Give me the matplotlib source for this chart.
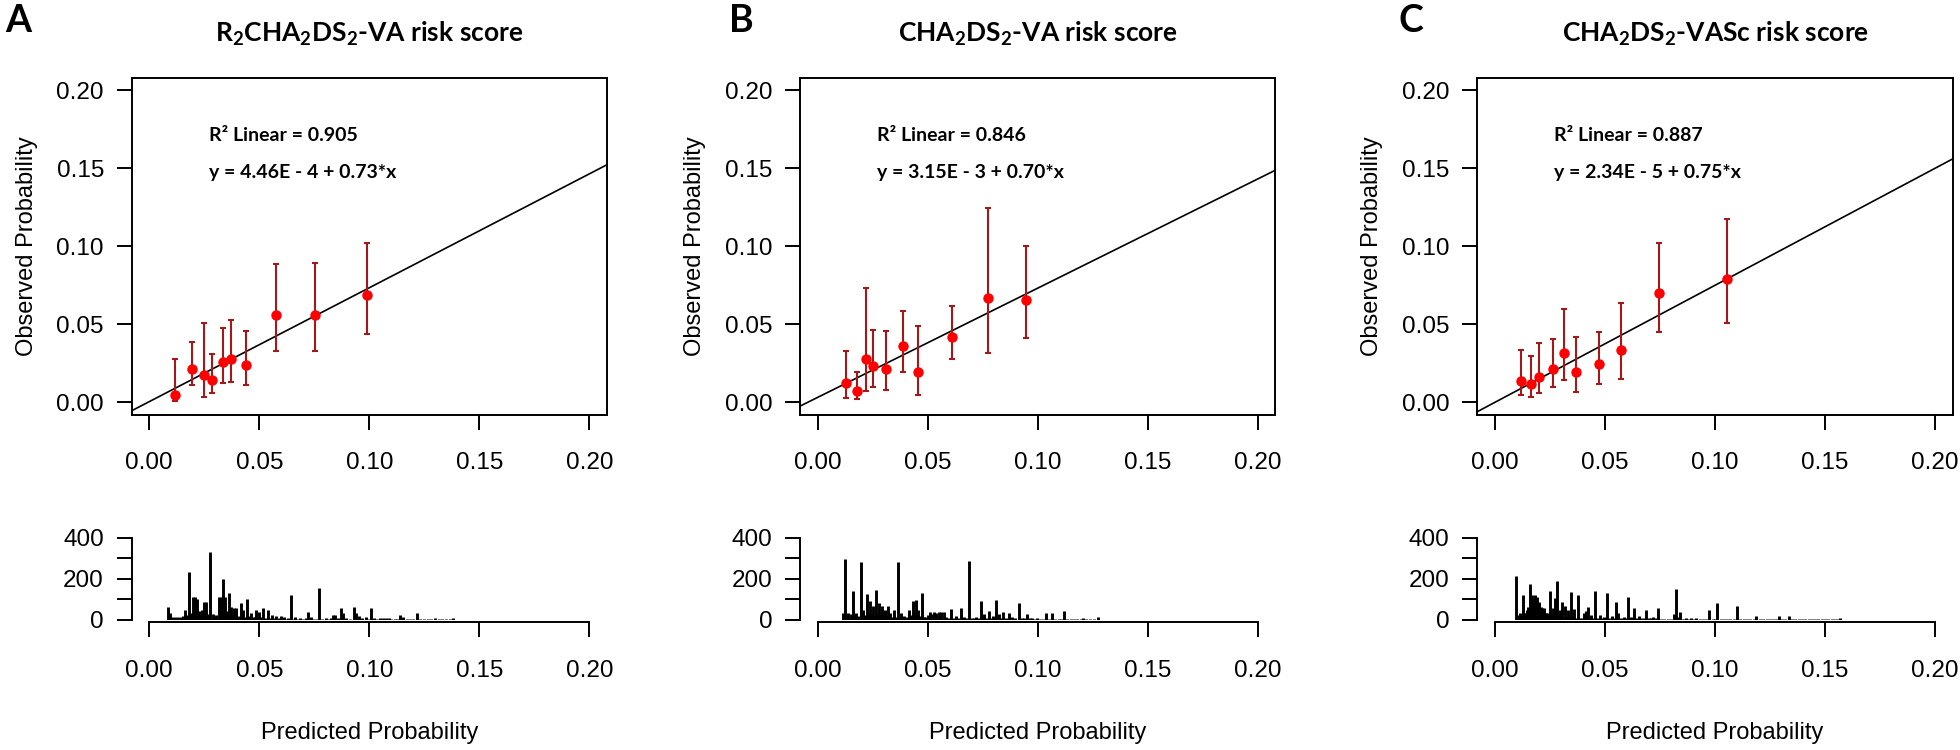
import numpy as np
import matplotlib
matplotlib.use("Agg")
import matplotlib.pyplot as plt

plt.rcParams['font.family'] = ['Liberation Sans', 'DejaVu Sans']
plt.rcParams['mathtext.fontset'] = 'custom'
plt.rcParams['mathtext.rm'] = 'Lato:bold'
plt.rcParams['mathtext.it'] = 'Lato:bold'
plt.rcParams['mathtext.bf'] = 'Lato:bold'

# --- Data ---
letters = ['A', 'B', 'C']
titles = [r'$\mathrm{R_2CHA_2DS_2}$-VA risk score',
          r'$\mathrm{CHA_2DS_2}$-VA risk score',
          r'$\mathrm{CHA_2DS_2}$-VASc risk score']
r2_labels = ['R² Linear = 0.905', 'R² Linear = 0.846', 'R² Linear = 0.887']
eq_labels = ['y = 4.46E - 4 + 0.73*x', 'y = 3.15E - 3 + 0.70*x', 'y = 2.34E - 5 + 0.75*x']
intercepts = [4.46e-4, 3.15e-3, 2.34e-5]
slopes = [0.73, 0.70, 0.75]

# calibration points (predicted, observed, lower CI, upper CI)
a_pred = [0.0115, 0.0195, 0.0248, 0.0283, 0.0336, 0.0373, 0.0439, 0.0577, 0.0755, 0.0991]
a_obs = [0.0047, 0.0215, 0.0174, 0.0142, 0.0261, 0.0280, 0.0237, 0.0560, 0.0560, 0.0685]
a_lo = [0.0008, 0.0112, 0.0036, 0.0060, 0.0123, 0.0133, 0.0112, 0.0330, 0.0330, 0.0435]
a_hi = [0.0280, 0.0386, 0.0508, 0.0312, 0.0476, 0.0530, 0.0457, 0.0886, 0.0894, 0.1019]

b_pred = [0.0127, 0.0179, 0.0222, 0.0254, 0.0312, 0.0386, 0.0457, 0.0611, 0.0773, 0.0949]
b_obs = [0.0121, 0.0072, 0.0278, 0.0235, 0.0214, 0.0359, 0.0193, 0.0420, 0.0669, 0.0658]
b_lo = [0.0027, 0.0019, 0.0072, 0.0099, 0.0080, 0.0195, 0.0049, 0.0276, 0.0318, 0.0412]
b_hi = [0.0329, 0.0195, 0.0730, 0.0461, 0.0454, 0.0586, 0.0492, 0.0616, 0.1247, 0.1002]

c_pred = [0.0117, 0.0162, 0.0198, 0.0265, 0.0315, 0.0367, 0.0471, 0.0573, 0.0747, 0.1056]
c_obs = [0.0139, 0.0120, 0.0160, 0.0212, 0.0316, 0.0192, 0.0244, 0.0335, 0.0699, 0.0793]
c_lo = [0.0045, 0.0034, 0.0058, 0.0096, 0.0141, 0.0068, 0.0120, 0.0150, 0.0451, 0.0511]
c_hi = [0.0338, 0.0295, 0.0378, 0.0408, 0.0596, 0.0419, 0.0451, 0.0639, 0.1021, 0.1177]

# distribution of predicted probabilities (value, count)
a_hist_x = [0.0083, 0.0094, 0.0105, 0.0118, 0.0130, 0.0142, 0.0152, 0.0161, 0.0170, 0.0180,
            0.0188, 0.0197, 0.0206, 0.0216, 0.0226, 0.0232, 0.0239, 0.0249, 0.0258, 0.0266,
            0.0276, 0.0288, 0.0296, 0.0305, 0.0317, 0.0325, 0.0335, 0.0344, 0.0352, 0.0361,
            0.0372, 0.0379, 0.0385, 0.0395, 0.0405, 0.0416, 0.0427, 0.0435, 0.0444, 0.0452,
            0.0460, 0.0470, 0.0479, 0.0487, 0.0494, 0.0500, 0.0509, 0.0517, 0.0528, 0.0541,
            0.0549, 0.0557, 0.0567, 0.0577, 0.0588, 0.0598, 0.0611, 0.0620, 0.0630, 0.0642,
            0.0652, 0.0663, 0.0673, 0.0684, 0.0700, 0.0712, 0.0723, 0.0736, 0.0748, 0.0760,
            0.0773, 0.0787, 0.0801, 0.0815, 0.0826, 0.0837, 0.0845, 0.0857, 0.0869, 0.0882,
            0.0895, 0.0910, 0.0928, 0.0941, 0.0955, 0.0968, 0.0983, 0.0995, 0.1009, 0.1020,
            0.1035, 0.1050, 0.1062, 0.1075, 0.1088, 0.1100, 0.1115, 0.1127, 0.1139, 0.1155,
            0.1170, 0.1185, 0.1200, 0.1217, 0.1232, 0.1250, 0.1265, 0.1280, 0.1297, 0.1315,
            0.1330, 0.1350, 0.1365, 0.1378]
a_hist_n = [62, 33, 12, 10, 14, 10, 18, 49, 20, 231,
            30, 108, 111, 102, 43, 20, 49, 87, 87, 25,
            333, 26, 12, 20, 111, 111, 198, 111, 40, 128,
            62, 20, 54, 54, 15, 79, 46, 12, 103, 15,
            30, 10, 14, 46, 12, 36, 10, 54, 8, 46,
            8, 21, 6, 16, 5, 16, 10, 4, 6, 120,
            4, 10, 3, 7, 4, 5, 38, 13, 4, 3,
            157, 4, 8, 4, 6, 21, 21, 5, 54, 33,
            5, 4, 62, 30, 16, 5, 13, 4, 54, 8,
            4, 5, 7, 7, 7, 4, 4, 4, 20, 10,
            4, 3, 3, 33, 3, 3, 3, 3, 7, 3,
            3, 3, 3, 8]

b_hist_x = [0.0114, 0.0124, 0.0132, 0.0140, 0.0150, 0.0159, 0.0167, 0.0175, 0.0185, 0.0195,
            0.0208, 0.0216, 0.0224, 0.0230, 0.0237, 0.0244, 0.0250, 0.0258, 0.0266, 0.0273,
            0.0279, 0.0286, 0.0292, 0.0299, 0.0305, 0.0312, 0.0318, 0.0325, 0.0331, 0.0340,
            0.0348, 0.0357, 0.0367, 0.0374, 0.0380, 0.0387, 0.0393, 0.0405, 0.0416, 0.0424,
            0.0432, 0.0439, 0.0445, 0.0452, 0.0458, 0.0465, 0.0475, 0.0482, 0.0490, 0.0500,
            0.0513, 0.0522, 0.0530, 0.0540, 0.0550, 0.0562, 0.0574, 0.0585, 0.0595, 0.0606,
            0.0617, 0.0627, 0.0638, 0.0650, 0.0658, 0.0666, 0.0676, 0.0687, 0.0700, 0.0710,
            0.0720, 0.0730, 0.0741, 0.0749, 0.0757, 0.0767, 0.0777, 0.0786, 0.0796, 0.0802,
            0.0809, 0.0817, 0.0825, 0.0833, 0.0842, 0.0855, 0.0869, 0.0882, 0.0895, 0.0913,
            0.0930, 0.0940, 0.0952, 0.0965, 0.0975, 0.0985, 0.0996, 0.1010, 0.1025, 0.1037,
            0.1050, 0.1066, 0.1080, 0.1095, 0.1108, 0.1121, 0.1135, 0.1150, 0.1165, 0.1180,
            0.1195, 0.1207, 0.1220, 0.1240, 0.1255, 0.1272]
b_hist_n = [30, 295, 20, 33, 25, 139, 20, 33, 15, 282,
            49, 20, 123, 30, 90, 25, 66, 20, 144, 25,
            82, 20, 66, 20, 49, 18, 66, 15, 33, 12,
            49, 10, 282, 8, 30, 10, 16, 12, 49, 20,
            90, 30, 98, 25, 49, 15, 131, 12, 10, 20,
            36, 25, 36, 30, 36, 36, 36, 10, 8, 52,
            6, 16, 6, 57, 5, 13, 5, 287, 5, 6,
            13, 5, 90, 6, 25, 5, 41, 5, 16, 5,
            98, 5, 25, 5, 36, 5, 33, 13, 5, 82,
            5, 5, 25, 5, 7, 4, 8, 4, 4, 33,
            4, 33, 4, 4, 4, 41, 4, 4, 4, 4,
            4, 8, 4, 4, 4, 13]

c_hist_x = [0.0097, 0.0105, 0.0114, 0.0120, 0.0127, 0.0133, 0.0138, 0.0145, 0.0150, 0.0158,
            0.0164, 0.0169, 0.0176, 0.0182, 0.0188, 0.0193, 0.0198, 0.0202, 0.0207, 0.0212,
            0.0218, 0.0224, 0.0230, 0.0235, 0.0243, 0.0251, 0.0257, 0.0262, 0.0267, 0.0271,
            0.0278, 0.0284, 0.0290, 0.0296, 0.0301, 0.0306, 0.0312, 0.0318, 0.0325, 0.0331,
            0.0338, 0.0346, 0.0352, 0.0359, 0.0366, 0.0375, 0.0385, 0.0395, 0.0403, 0.0412,
            0.0417, 0.0422, 0.0428, 0.0434, 0.0445, 0.0456, 0.0465, 0.0475, 0.0485, 0.0494,
            0.0500, 0.0509, 0.0520, 0.0531, 0.0540, 0.0550, 0.0556, 0.0561, 0.0573, 0.0585,
            0.0594, 0.0603, 0.0610, 0.0616, 0.0624, 0.0632, 0.0643, 0.0655, 0.0665, 0.0676,
            0.0687, 0.0698, 0.0708, 0.0718, 0.0730, 0.0741, 0.0755, 0.0770, 0.0785, 0.0800,
            0.0812, 0.0821, 0.0830, 0.0839, 0.0850, 0.0860, 0.0870, 0.0880, 0.0892, 0.0903,
            0.0914, 0.0930, 0.0945, 0.0960, 0.0973, 0.0990, 0.1000, 0.1011, 0.1025, 0.1040,
            0.1055, 0.1070, 0.1085, 0.1099, 0.1115, 0.1130, 0.1145, 0.1160, 0.1175, 0.1188,
            0.1205, 0.1220, 0.1235, 0.1250, 0.1265, 0.1278, 0.1290, 0.1305, 0.1320, 0.1334,
            0.1350, 0.1365, 0.1380, 0.1395, 0.1410, 0.1425, 0.1440, 0.1455, 0.1470, 0.1485,
            0.1500, 0.1515, 0.1530, 0.1545, 0.1558, 0.1569]
c_hist_n = [213, 20, 32, 15, 120, 30, 32, 45, 60, 173,
            70, 120, 100, 120, 90, 112, 85, 80, 60, 56,
            40, 56, 30, 32, 20, 141, 25, 56, 20, 107,
            15, 189, 15, 45, 12, 88, 12, 64, 12, 48,
            10, 133, 10, 51, 8, 120, 8, 8, 32, 40,
            10, 59, 8, 24, 8, 141, 6, 24, 6, 13,
            6, 128, 6, 16, 6, 88, 6, 32, 5, 13,
            5, 112, 5, 13, 5, 56, 5, 19, 5, 5,
            48, 5, 5, 13, 5, 56, 4, 4, 4, 4,
            29, 149, 10, 35, 4, 4, 8, 4, 8, 4,
            8, 4, 4, 4, 48, 4, 4, 80, 4, 4,
            4, 4, 4, 64, 4, 4, 4, 4, 4, 19,
            3, 3, 3, 3, 3, 3, 19, 3, 3, 19,
            3, 3, 3, 3, 3, 3, 3, 3, 3, 3,
            3, 3, 3, 3, 3, 8]

calib = [(a_pred, a_obs, a_lo, a_hi), (b_pred, b_obs, b_lo, b_hi), (c_pred, c_obs, c_lo, c_hi)]
hists = [(a_hist_x, a_hist_n), (b_hist_x, b_hist_n), (c_hist_x, c_hist_n)]

# --- Layout (figure fractions) ---
W, H = 1960, 750
box_lefts = [131.7, 800.0, 1477.4]
box_w = 475.3
top_bottom, top_h = 1 - 414.8 / H, (414.8 - 77.8) / H
hist_bottom, hist_h = 1 - 619.5 / H, (619.5 - 538.0) / H
letter_x = [5, 729, 1398]

xlim = (-0.008, 0.208)
ticks = [0.0, 0.05, 0.10, 0.15, 0.20]

fig = plt.figure(figsize=(W / 100, H / 100), dpi=100)

for i in range(3):
    left = box_lefts[i] / W
    width = box_w / W
    pred, obs, lo, hi = [np.array(v) for v in calib[i]]

    # --- calibration plot ---
    ax = fig.add_axes([left, top_bottom, width, top_h])
    ax.set_xlim(*xlim)
    ax.set_ylim(*xlim)
    xx = np.array(xlim)
    ax.plot(xx, intercepts[i] + slopes[i] * xx, color='black', lw=1.2, zorder=2)
    ax.errorbar(pred, obs, yerr=[obs - lo, hi - obs], fmt='o', color='#FF0000', ms=6.5,
                ecolor='#A31818', elinewidth=1.5, capsize=2, capthick=1.5, zorder=3)
    ax.set_xticks(ticks)
    ax.set_yticks(ticks)
    ax.set_xticklabels(['%.2f' % t for t in ticks])
    ax.set_yticklabels(['%.2f' % t for t in ticks])
    ax.tick_params(axis='both', direction='out', length=11, width=1.4, labelsize=17.5)
    ax.tick_params(axis='x', pad=16)
    ax.tick_params(axis='y', pad=9)
    for s in ax.spines.values():
        s.set_linewidth(1.4)
    ax.text(0.027, 0.171, r2_labels[i], fontfamily='Lato', fontweight='bold', fontsize=14, va='center')
    ax.text(0.027, 0.147, eq_labels[i], fontfamily='Lato', fontweight='bold', fontsize=14, va='center')

    fig.text((box_lefts[i] - 105) / W, top_bottom + top_h / 2, 'Observed Probability',
             rotation=90, ha='center', va='center', fontsize=17)
    fig.text(left + width / 2, 1 - 42 / H, titles[i], ha='center', va='baseline',
             fontsize=19, fontfamily='Lato', fontweight='bold')
    fig.text(letter_x[i] / W, 1 - 32 / H, letters[i], ha='left', va='baseline',
             fontsize=27, fontfamily='Lato', fontweight='bold')

    # --- distribution of predictions ---
    hx, hn = hists[i]
    axh = fig.add_axes([left, hist_bottom, width, hist_h])
    axh.vlines(hx, 0, hn, color='black', lw=2.1)
    axh.set_xlim(*xlim)
    axh.set_ylim(0, 400)
    axh.spines['top'].set_visible(False)
    axh.spines['right'].set_visible(False)
    axh.spines['bottom'].set_bounds(0, 0.2)
    axh.spines['bottom'].set_position(('outward', 2))
    for s in axh.spines.values():
        s.set_linewidth(1.4)
    axh.set_xticks(ticks)
    axh.set_xticklabels(['%.2f' % t for t in ticks])
    axh.set_yticks([0, 100, 200, 300, 400])
    axh.set_yticklabels(['0', '', '200', '', '400'])
    axh.tick_params(axis='both', direction='out', length=11, width=1.4, labelsize=17.5)
    axh.tick_params(axis='x', pad=16)
    axh.tick_params(axis='y', pad=9)
    fig.text(left + width / 2, 1 - 733 / H, 'Predicted Probability',
             ha='center', va='center', fontsize=17)

fig.savefig('out.png', dpi=100)
